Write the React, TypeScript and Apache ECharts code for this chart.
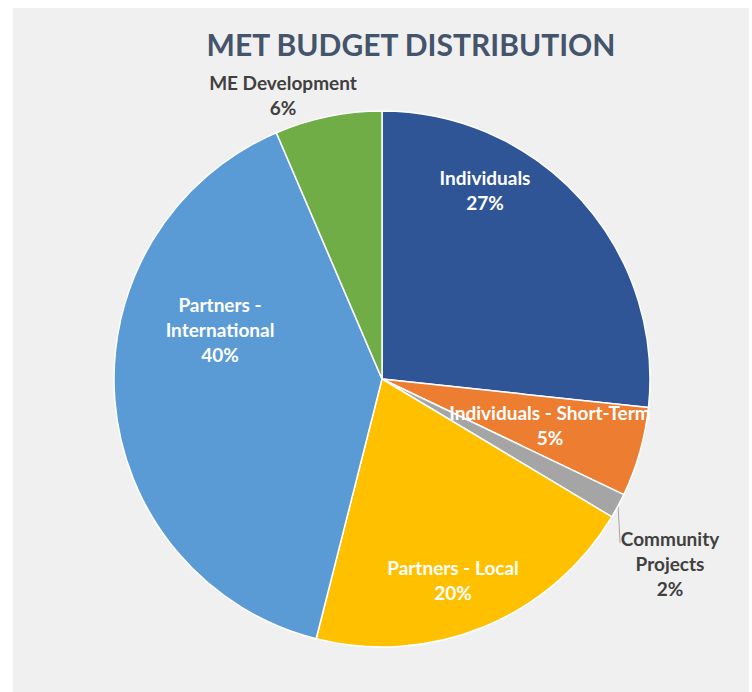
import React, { useEffect, useRef } from "react";
import * as echarts from "echarts";

const titleText = "MET BUDGET DISTRIBUTION";
const categories = [
  "Individuals",
  "Individuals - Short-Term",
  "Community Projects",
  "Partners - Local",
  "Partners - International",
  "ME Development",
];
const labelLines = [
  "Individuals",
  "Individuals - Short-Term",
  "Community\nProjects",
  "Partners - Local",
  "Partners -\nInternational",
  "ME Development",
];
const values = [26.7, 5.4, 1.5, 20.35, 39.6, 6.45];
const colors = ["#2F5597", "#ED7D31", "#A5A5A5", "#FFC000", "#5B9BD5", "#70AD47"];
const outsideLabel = [false, false, true, false, false, true];

// layout (chart pixel coordinates)
const CX = 369;
const CY = 371;
const R = 268;
const labelPos: [number, number][] = [
  [472, 182],
  [537, 417],
  [657, 555],
  [440, 572],
  [207, 321],
  [270, 87],
];

export default function App() {
  const ref = useRef<HTMLDivElement>(null);
  useEffect(() => {
    if (!ref.current) return;
    const chart = echarts.init(ref.current, undefined, { renderer: "svg" });
    const font = "Lato, 'Noto Sans', sans-serif";
    chart.setOption({
      animation: false,
      backgroundColor: "#F0F0F0",
      title: {
        text: titleText,
        left: 393,
        top: 16,
        textAlign: "center",
        textStyle: {
          fontFamily: font,
          fontWeight: "bold",
          fontSize: 30,
          color: "#44546A",
        },
      },
      series: [
        {
          type: "pie",
          center: [CX, CY],
          radius: R,
          startAngle: 90,
          clockwise: true,
          avoidLabelOverlap: false,
          itemStyle: { borderColor: "#FFFFFF", borderWidth: 1.5 },
          labelLine: { show: false },
          label: {
            show: true,
            fontFamily: font,
            fontWeight: "bold",
            fontSize: 19,
            lineHeight: 25,
            align: "center",
            formatter: (p: any) =>
              labelLines[p.dataIndex] + "\n" + Math.round(p.percent) + "%",
          },
          labelLayout: (p: any) => {
            const [x, y] = labelPos[p.dataIndex];
            const res: any = { x, y, align: "center", verticalAlign: "middle" };
            if (p.dataIndex === 2) {
              // leader line from the slice edge down to the label
              const mid = (90 - (26.7 + 5.4 + 0.75) * 3.6) * (Math.PI / 180);
              const ex = CX + R * Math.cos(mid);
              const ey = CY - R * Math.sin(mid);
              res.labelLinePoints = [
                [ex, ey],
                [ex + 1, ey + 18],
                [ex + 2, ey + 37],
              ];
            }
            return res;
          },
          data: categories.map((name, i) => ({
            name,
            value: values[i],
            itemStyle: { color: colors[i] },
            label: {
              position: outsideLabel[i] ? "outside" : "inside",
              color: outsideLabel[i] ? "#404040" : "#FFFFFF",
            },
            labelLine: {
              show: i === 2,
              lineStyle: { color: "#A6A6A6", width: 1 },
            },
          })),
        },
      ],
    });
    return () => chart.dispose();
  }, []);
  return (
    <div
      style={{
        position: "fixed",
        left: 13,
        top: 8,
        width: 736,
        height: 684,
        background: "#F0F0F0",
      }}
    >
      <div ref={ref} style={{ width: 736, height: 684 }} />
    </div>
  );
}
